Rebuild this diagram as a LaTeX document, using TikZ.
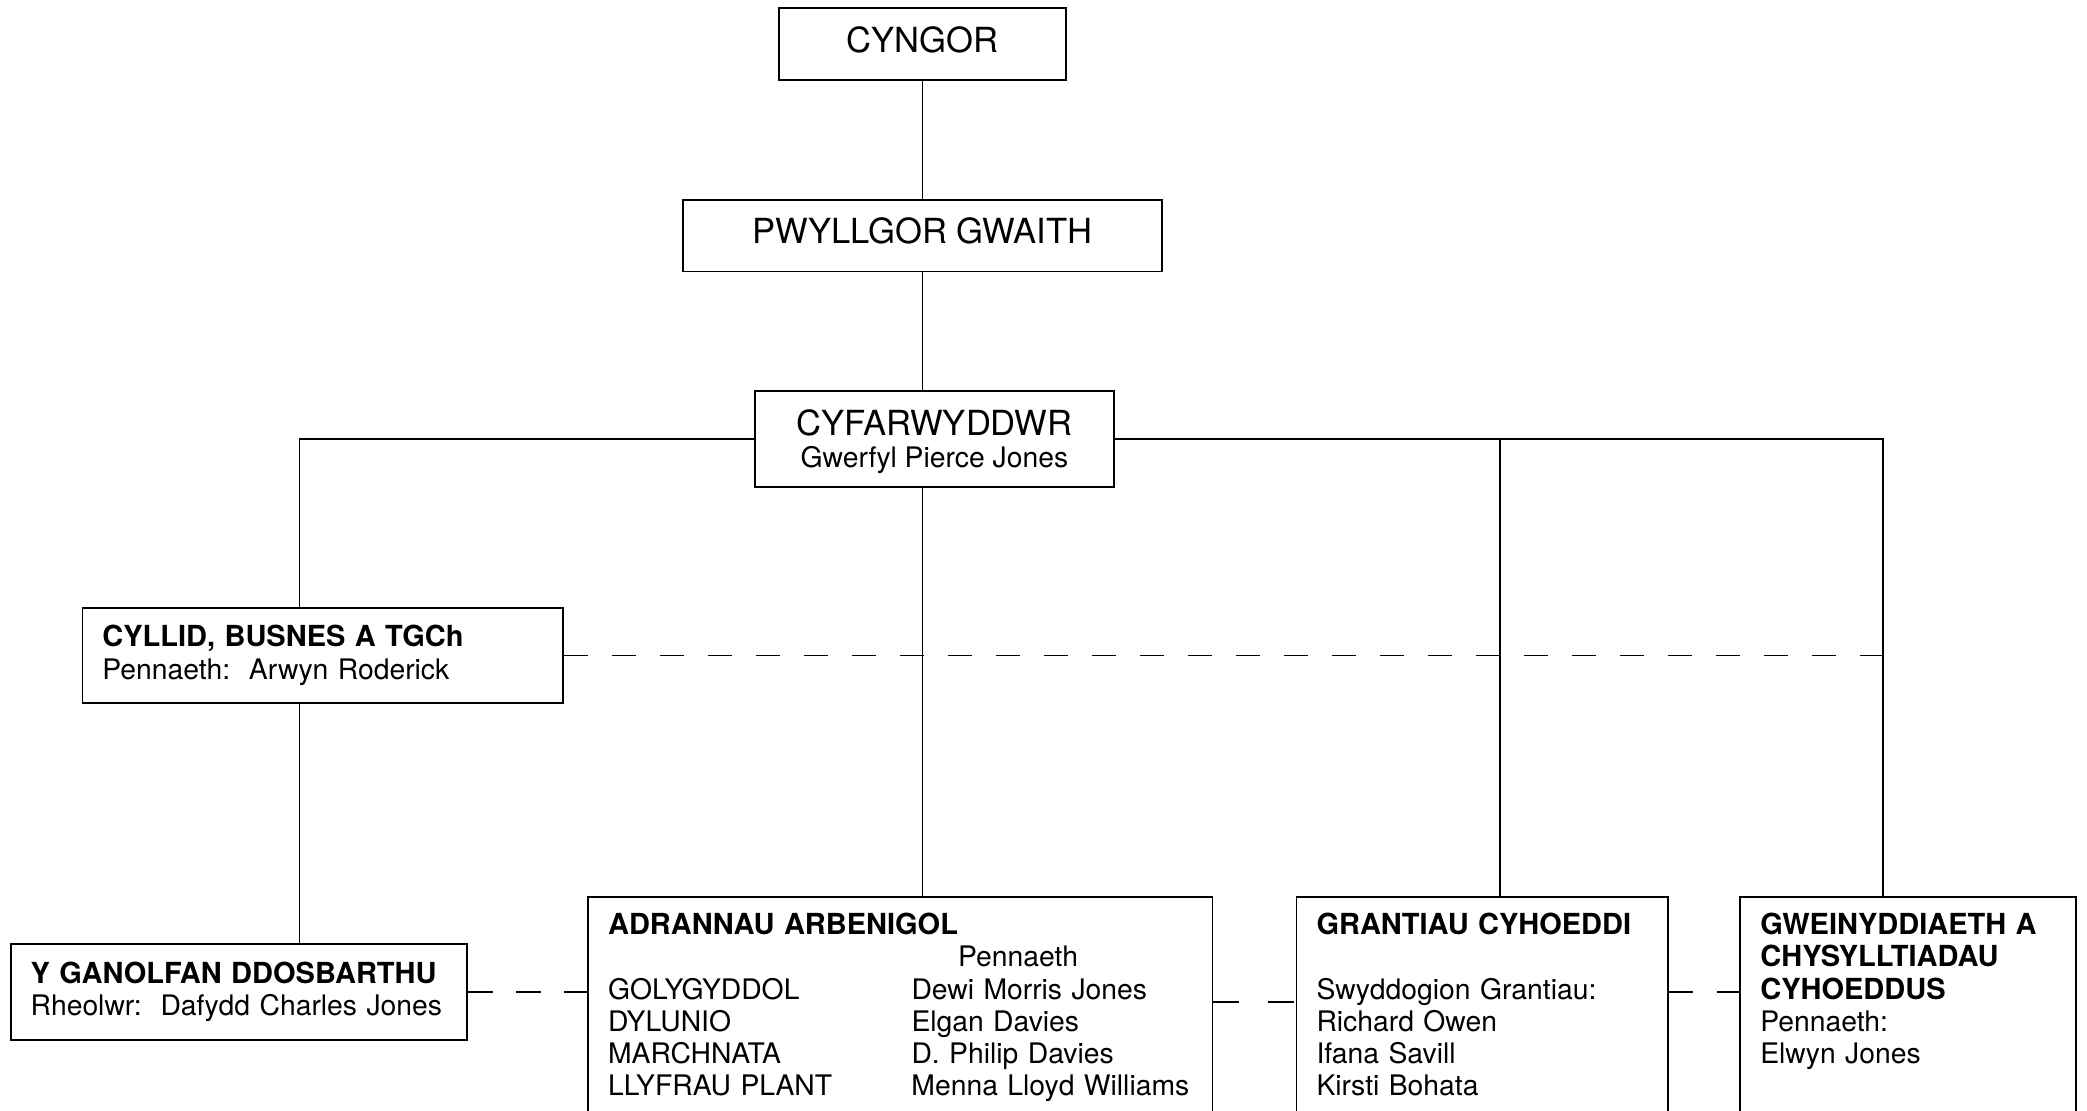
\documentclass[tikz,border=0pt]{standalone}
\usepackage{fontspec}
\setmainfont{TeX Gyre Heros}
\usetikzlibrary{positioning, calc}

\newcommand{\bigtext}{\fontsize{17.3}{17}\selectfont}
\newcommand{\unithead}[1]{{\fontsize{14.5}{16.15}\selectfont\bfseries #1}}
\newcommand{\deptrow}[2]{\makebox[151.7pt][l]{#1}#2}

\begin{document}
\begin{tikzpicture}[
	x=1pt, y=1pt,
	line width=0.9pt,
	topbox/.style={draw, inner sep=0pt, font=\bigtext, text height=12pt, text depth=4pt},
	unitbox/.style={draw, inner xsep=10pt, inner ysep=0pt, align=left, font=\fontsize{14.15}{16.15}\selectfont},
	deptbox/.style={unitbox, anchor=north west, inner ysep=8pt, text depth=150pt},
	linkline/.style={dash pattern=on 12.4pt off 11.6pt}
	]
	\useasboundingbox (0,0) rectangle (1043.5,-555);

	\node[topbox, minimum width=143.7pt, minimum height=36pt] (cyngor) at (461.2,-22) {CYNGOR};
	\node[topbox, minimum width=239.6pt, minimum height=35.9pt] (pwyllgor) at (461.2,-117.8) {PWYLLGOR GWAITH};
	\node[topbox, minimum width=179.7pt, minimum height=47.9pt, align=center, font=\fontsize{14.15}{15.8}\selectfont,
		text height=28.3pt, text depth=0pt] (cyfar) at (467.2,-219.6)
		{{\bigtext CYFARWYDDWR}\\Gwerfyl Pierce Jones};

	\node[unitbox, text width=220.1pt, minimum height=47.4pt] (cyllid) at (161.25,-327.7)
		{\unithead{CYLLID, BUSNES A TGCh}\\Pennaeth:\ \ Arwyn Roderick};
	\node[unitbox, text width=208.3pt, minimum height=47.9pt] (ganolfan) at (119.45,-495.85)
		{\unithead{Y GANOLFAN DDOSBARTHU}\\Rheolwr:\ \ Dafydd Charles Jones};

	\node[deptbox, text width=292.2pt] (adran) at (293.6,-448)
		{\unithead{ADRANNAU ARBENIGOL}\\
		\hspace*{175pt}Pennaeth\\
		\deptrow{GOLYGYDDOL}{Dewi Morris Jones}\\
		\deptrow{DYLUNIO}{Elgan Davies}\\
		\deptrow{MARCHNATA}{D. Philip Davies}\\
		\deptrow{LLYFRAU PLANT}{Menna Lloyd Williams}};
	\node[deptbox, text width=165.8pt] (grant) at (647.8,-448)
		{\unithead{GRANTIAU CYHOEDDI}\\[16.15pt]
		Swyddogion Grantiau:\\
		Richard Owen\\
		Ifana Savill\\
		Kirsti Bohata};
	\node[deptbox, text width=147.8pt] (gwein) at (869.7,-448)
		{\unithead{GWEINYDDIAETH A}\\
		\unithead{CHYSYLLTIADAU}\\
		\unithead{CYHOEDDUS}\\
		Pennaeth:\\
		Elwyn Jones};

	% branch points on the bar
	\coordinate (lj) at (149.75,-219.6);
	\coordinate (gj) at (750,-219.6);
	\coordinate (rj) at (941.5,-219.6);

	\draw (cyngor) -- (pwyllgor);
	\draw (pwyllgor.south) -- (pwyllgor.south |- cyfar.north);
	\draw (pwyllgor.south |- cyfar.south) -- (pwyllgor.south |- adran.north);
	\draw (cyfar.west) -- (lj) -- (lj |- cyllid.north);
	\draw (lj |- cyllid.south) -- (lj |- ganolfan.north);
	\draw (cyfar.east) -- (rj) -- (rj |- gwein.north);
	\draw (gj) -- (gj |- grant.north);

	% dashed links
	\draw[linkline] (cyllid.east) -- (rj |- cyllid.east);
	\draw[linkline] (ganolfan.east) -- (ganolfan.east -| adran.west);
	\draw[dash pattern=on 13pt off 14.4pt] ([yshift=-53pt]adran.north east) -- ([yshift=-53pt]grant.north west);
	\draw[dash pattern=on 12pt off 12pt] ([yshift=-48.15pt]grant.north east) -- ([yshift=-48.15pt]gwein.north west);
\end{tikzpicture}
\end{document}
